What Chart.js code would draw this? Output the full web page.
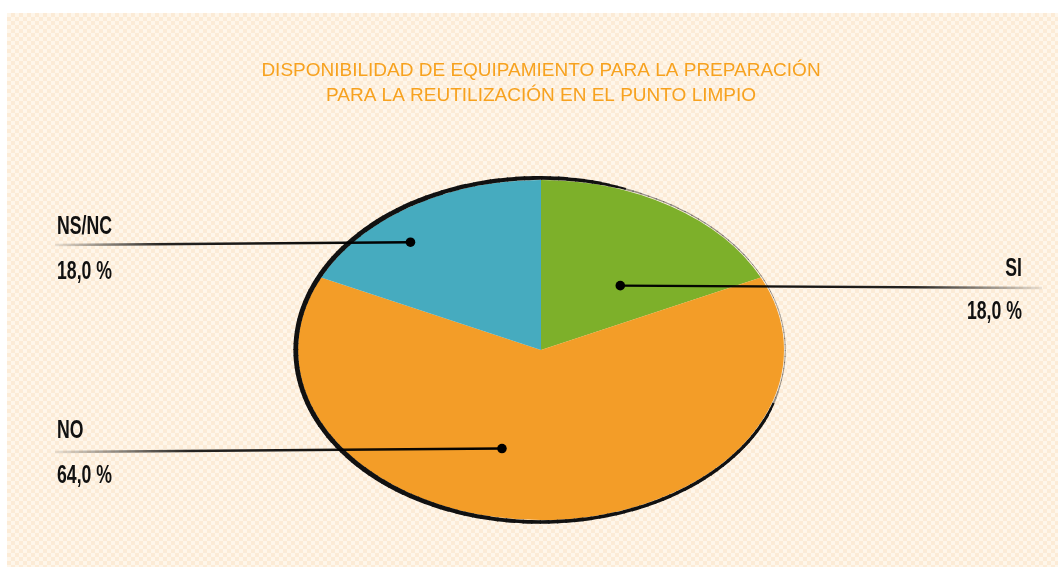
<!DOCTYPE html>
<html>
<head>
<meta charset="utf-8">
<script src="https://cdn.jsdelivr.net/npm/chart.js@4.4.1/dist/chart.umd.min.js"></script>
<style>
    html, body { margin: 0; padding: 0; background: #fff; }
    #wrap { position: relative; width: 1058px; height: 567px; overflow: hidden; }
    #panel {
        position: absolute; left: 7px; top: 13px; right: 0; bottom: 0;
        background-color: #fdf1e1;
        background-image: repeating-conic-gradient(#fcebd6 0 25%, #fef6ea 0 50%);
        background-size: 8px 8px;
    }
    #chartBox { position: absolute; left: 0; top: 0; width: 1058px; height: 567px; }
</style>
</head>
<body>
<div id="wrap">
    <div id="panel"></div>
    <div id="chartBox"><canvas id="chartEquipamiento"></canvas></div>
</div>
<script>
const titleLines = ['DISPONIBILIDAD DE EQUIPAMIENTO PARA LA PREPARACIÓN', 'PARA LA REUTILIZACIÓN EN EL PUNTO LIMPIO'];
const categories = ['SI', 'NO', 'NS/NC'];
const percentages = [18.0, 64.0, 18.0];
const sliceColors = ['#7db02a', '#f39d28', '#46abbf'];

// where the pie sits on the page and how flat it is
const CX = 541, CY = 350, SQUASH = 0.70;

// label placement: dot offset (in radii), leader end, text anchor
const labelLayout = {
    'SI':    { dot: [0.325, -0.376], lineEnd: [1042, 288], align: 'right', x: 1022, nameY: 276, valueY: 319 },
    'NO':    { dot: [-0.16, 0.576], lineEnd: [55, 452], align: 'left', x: 57, nameY: 438, valueY: 483 },
    'NS/NC': { dot: [-0.535, -0.63], lineEnd: [55, 245], align: 'left', x: 57, nameY: 234, valueY: 279 }
};

// outline thickness along the rim (parametric angle in degrees, 0 = east, clockwise)
const rimWidth = [[-66, 1.2], [-40, 1.1], [-15, 0.8], [12, 1], [24, 3.2], [90, 3.6], [130, 4.8], [230, 4.8], [265, 4], [282, 3.4], [294, 1.2]];

function fmtPct(v) {
    return v.toFixed(1).replace('.', ',') + ' %';
}

function widthAt(t) {
    for (let i = 1; i < rimWidth.length; i++) {
        const [t0, w0] = rimWidth[i - 1];
        const [t1, w1] = rimWidth[i];
        if (t <= t1) return w0 + (w1 - w0) * (t - t0) / (t1 - t0);
    }
    return rimWidth[rimWidth.length - 1][1];
}

function condensedText(ctx, text, x, y, align) {
    ctx.save();
    ctx.translate(x, y);
    ctx.scale(0.68, 1);
    ctx.textAlign = align;
    ctx.textBaseline = 'alphabetic';
    ctx.fillText(text, 0, 0);
    ctx.restore();
}

const ellipsePie = {
    id: 'ellipsePie',
    beforeDatasetsDraw(chart) {
        const arc = chart.getDatasetMeta(0).data[0];
        const ctx = chart.ctx;
        ctx.save();
        ctx.translate(CX, CY);
        ctx.scale(1, SQUASH);
        ctx.translate(-arc.x, -arc.y);
    },
    afterDatasetsDraw(chart) {
        const ctx = chart.ctx;
        ctx.restore();
        const arc = chart.getDatasetMeta(0).data[0];
        const rx = arc.outerRadius + 1;
        const ry = arc.outerRadius * SQUASH + 1;
        const rad = d => d * Math.PI / 180;

        // sketchy outline, drawn in short pieces so the width can vary
        ctx.save();
        ctx.lineCap = 'butt';
        for (let t = -66; t < 294; t += 2) {
            const w = widthAt(t + 1);
            ctx.beginPath();
            ctx.ellipse(CX, CY, rx + w / 4, ry + w / 4, 0, rad(t), rad(t + 2.3));
            ctx.lineWidth = w;
            ctx.strokeStyle = w < 2 ? 'rgba(30,30,30,0.45)' : '#111';
            ctx.stroke();
        }
        ctx.restore();

        // title
        ctx.save();
        ctx.fillStyle = '#f7a21f';
        ctx.font = '19px "Liberation Sans", Arial, sans-serif';
        ctx.textAlign = 'center';
        ctx.textBaseline = 'alphabetic';
        titleLines.forEach((t, i) => ctx.fillText(t, CX, 76 + i * 25));
        ctx.restore();

        // leader lines, dots and labels
        categories.forEach((name, i) => {
            const lay = labelLayout[name];
            const dx = CX + lay.dot[0] * rx;
            const dy = CY + lay.dot[1] * ry;
            const [ex, ey] = lay.lineEnd;

            ctx.save();
            const g = ctx.createLinearGradient(dx, dy, ex, ey);
            g.addColorStop(0, '#000');
            g.addColorStop(0.7, 'rgba(0,0,0,0.85)');
            g.addColorStop(1, 'rgba(0,0,0,0.08)');
            ctx.strokeStyle = g;
            ctx.lineWidth = 2.4;
            ctx.beginPath();
            ctx.moveTo(dx, dy);
            ctx.lineTo(ex, ey);
            ctx.stroke();

            ctx.fillStyle = '#000';
            ctx.beginPath();
            ctx.arc(dx, dy, 4.8, 0, Math.PI * 2);
            ctx.fill();

            ctx.fillStyle = '#111';
            ctx.font = 'bold 26px "Liberation Sans", Arial, sans-serif';
            condensedText(ctx, name, lay.x, lay.nameY, lay.align);
            condensedText(ctx, fmtPct(percentages[i]), lay.x, lay.valueY, lay.align);
            ctx.restore();
        });
    }
};

new Chart(document.getElementById('chartEquipamiento'), {
    type: 'pie',
    data: {
        labels: categories,
        datasets: [{
            data: percentages,
            backgroundColor: sliceColors,
            borderWidth: 0,
            hoverOffset: 0,
            offset: 0
        }]
    },
    options: {
        responsive: true,
        maintainAspectRatio: false,
        animation: false,
        layout: {
            padding: { left: 298, right: 274, top: 0, bottom: 0 }
        },
        plugins: {
            legend: { display: false },
            tooltip: { enabled: false },
            title: { display: false }
        }
    },
    plugins: [ellipsePie]
});
</script>
</body>
</html>
